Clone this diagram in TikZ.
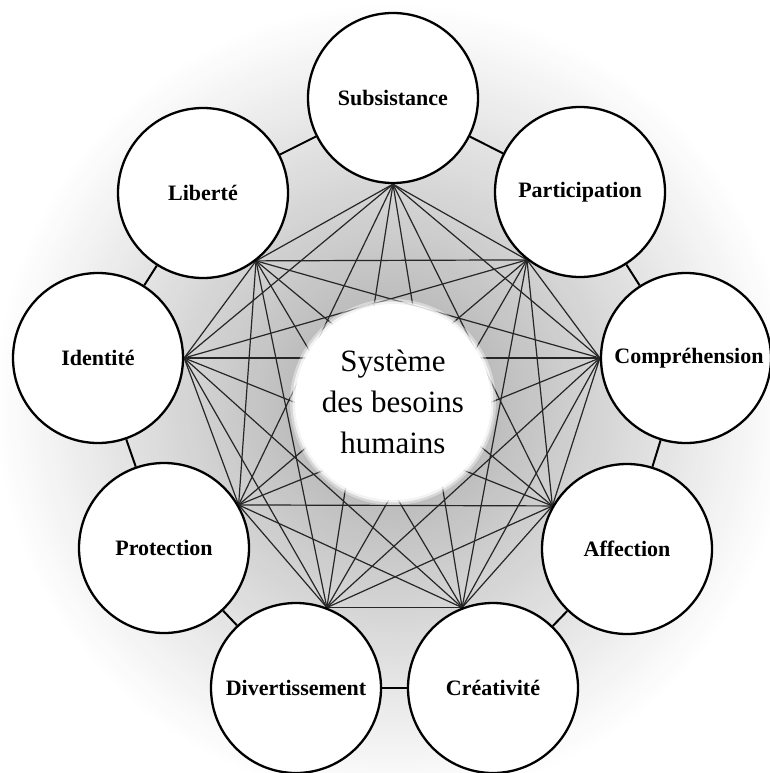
\documentclass[tikz,border=0pt]{standalone}
\usepackage{fontspec}
\setmainfont{Liberation Serif}
\pgfdeclarelayer{back}
\pgfdeclarelayer{mid}
\pgfsetlayers{back,mid,main}
\begin{document}
\begin{tikzpicture}[x=1pt,y=-1pt,
  need/.style={circle, draw=black, line width=2.3pt, fill=white, minimum size=170pt, inner sep=0pt, font=\fontsize{22}{26}\bfseries\selectfont},
  link/.style={line width=1.2pt, black!85},
  ring/.style={line width=2pt},
  centre/.style={circle, fill=white, minimum size=196pt, inner sep=0pt, align=center, font=\fontsize{31}{41}\selectfont}]
\useasboundingbox (0,0) rectangle (770,773);
\begin{pgfonlayer}{back}
\fill[white] (0,0) rectangle (770,773);
\foreach \r in {400,396,...,100} {
  \pgfmathsetmacro\g{26*(400-\r)/300}
  \fill[black!\g] (393,402) circle (\r);
}
\end{pgfonlayer}
\node[need] (sub) at (393,98) {Subsistance};
\node[need] (par) at (580,192) {Participation};
\node[need] (com) at (686,358) {\hspace*{6pt}Compréhension};
\node[need] (aff) at (627,549) {Affection};
\node[need] (cre) at (493,688) {Créativité};
\node[need] (div) at (296,688) {Divertissement};
\node[need] (pro) at (164,548) {Protection};
\node[need] (ide) at (98,358) {Identité};
\node[need] (lib) at (203,193) {Liberté};
\coordinate (q1) at (sub.-90);
\coordinate (q2) at (par.232);
\coordinate (q3) at (com.180);
\coordinate (q4) at (aff.150);
\coordinate (q5) at (cre.111);
\coordinate (q6) at (div.69);
\coordinate (q7) at (pro.30);
\coordinate (q8) at (ide.0);
\coordinate (q9) at (lib.-52);
\begin{pgfonlayer}{mid}
\foreach \i in {1,...,8} {
  \pgfmathtruncatemacro\nxt{\i+1}
  \foreach \j in {\nxt,...,9} {\draw[link] (q\i) -- (q\j);}
}
\fill[white, opacity=0.4] (393,402) circle (103);
\fill[white, opacity=0.7] (393,402) circle (100.5);
\node[centre] (sys) at (393,402) {Système\\des besoins\\humains};
\draw[ring] (sub) -- (par);
\draw[ring] (par) -- (com);
\draw[ring] (com) -- (aff);
\draw[ring] (aff) -- (cre);
\draw[ring] (cre) -- (div);
\draw[ring] (div) -- (pro);
\draw[ring] (pro) -- (ide);
\draw[ring] (ide) -- (lib);
\draw[ring] (lib) -- (sub);
\end{pgfonlayer}
\end{tikzpicture}
\end{document}
